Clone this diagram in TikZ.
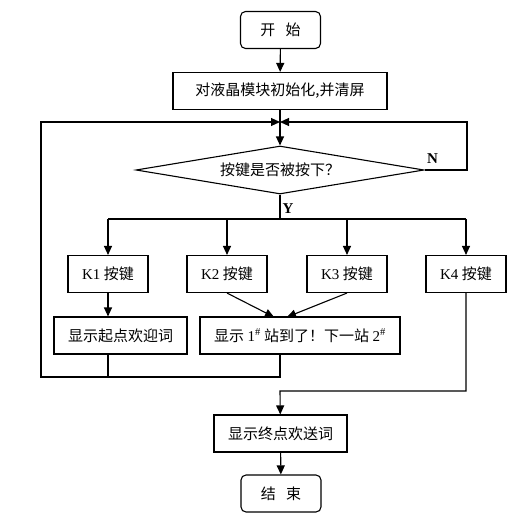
\documentclass[tikz,border=0pt]{standalone}
\usepackage{fontspec}
\setmainfont{Liberation Serif}
\newfontfamily\cjk{Noto Sans CJK SC}
\usetikzlibrary{shapes.geometric,arrows.meta}
\tikzset{>={Triangle[length=9pt,width=8pt]}}
\tikzset{%
    box/.style={draw,line width=1.1pt,minimum height=37pt,inner sep=2pt,
        font=\fontsize{15}{18}\selectfont\cjk},
    term/.style={box,rounded corners=5pt,minimum width=80pt},
    decision/.style={draw,diamond,aspect=6,inner sep=0pt,line width=1.1pt,
        minimum width=288pt,minimum height=48pt,font=\fontsize{15}{18}\selectfont\cjk},
    flow/.style={line width=1.1pt},
    tag/.style={font=\fontsize{15}{17}\selectfont\bfseries,inner sep=2pt}
}

\begin{document}
\begin{tikzpicture}[x=1pt,y=-1pt]
    \useasboundingbox (0,0) rectangle (528,517);
    \node[term] (start) at (280.5,30) {开\hspace{0.7em}始};
    \node[box,minimum width=214pt] (init) at (280,91) {对液晶模块初始化,并清屏};
    \coordinate (merge) at (280,122);
    \node[decision] (key) at (280,170) {按键是否被按下？};
    \coordinate (fork) at (280,219);
    \node[box,minimum width=80pt] (k1) at (108,274) {\textrm{K1} 按键};
    \node[box,minimum width=80pt] (k2) at (227,274) {\textrm{K2} 按键};
    \node[box,minimum width=80pt] (k3) at (347,274) {\textrm{K3} 按键};
    \node[box,minimum width=80pt] (k4) at (466,274) {\textrm{K4} 按键};
    \node[box,minimum width=133pt] (show1) at (120.5,335.5) {显示起点欢迎词};
    \node[box,minimum width=200pt] (show2) at (300,335.5)
        {显示 \textrm{1\textsuperscript{\#}} 站到了！下一站 \textrm{2\textsuperscript{\#}}};
    \coordinate (in2) at (274,317);
    \coordinate (in3) at (287,317);
    \coordinate (back) at (41,377);
    \coordinate (rloop) at (467,122);
    \coordinate (turn) at (280,391);
    \node[box,minimum width=133pt] (show4) at (280.5,433.5) {显示终点欢送词};
    \node[term] (stop) at (281,493.5) {结\hspace{0.7em}束};
    % main line
    \draw[flow,->] (start) -- (init);
    \draw[flow] (init) -- (merge);
    \draw[flow,->] (merge) -- (key);
    \draw[flow,->] (key.east) node[tag,above right,yshift=4pt]{N} -| (rloop) -- (merge);
    \draw[flow] (key) -- (fork) node[tag,midway,right,yshift=-2pt]{Y};
    \draw[flow] (fork -| k1) -- (fork -| k4);
    \foreach \k in {k1,k2,k3,k4}
        \draw[flow,->] (fork -| \k) -- (\k);
    \draw[flow,->] (k1) -- (k1 |- show1.north);
    \draw[flow,->] (k2.south) -- (in2);
    \draw[flow,->] (k3.south) -- (in3);
    % back to the test
    \draw[flow] (k1 |- show1.south) -- (k1 |- back);
    \draw[flow,->] (show2.south -| merge) |- (back) |- (merge);
    \draw[flow,->] (k4) |- (turn) -- (show4);
    \draw[flow,->] (show4) -- (stop);
\end{tikzpicture}
\end{document}
